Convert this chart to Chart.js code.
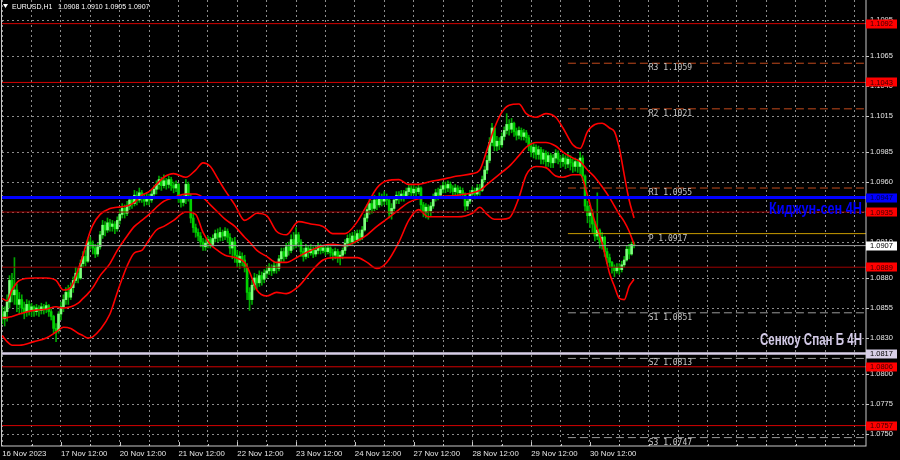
<!DOCTYPE html>
<html>
<head>
<meta charset="utf-8">
<title>EURUSD H1</title>
<script src="https://cdn.jsdelivr.net/npm/chart.js@4.4.1/dist/chart.umd.min.js"></script>
<style>
    html, body { margin: 0; padding: 0; background: #000; }
    #eurusdChart { display: block; }
</style>
</head>
<body>
<canvas id="eurusdChart" width="900" height="460"></canvas>
<script>
// bar 0 = 16 Nov 12:00, one bar per hour, last bar = 1 Dec 06:00
const tick_bars = [0, 24, 48, 72, 96, 120, 144, 168, 192, 216, 240];
const tick_labels = ["16 Nov 2023", "17 Nov 12:00", "20 Nov 12:00", "21 Nov 12:00", "22 Nov 12:00",
    "23 Nov 12:00", "24 Nov 12:00", "27 Nov 12:00", "28 Nov 12:00", "29 Nov 12:00", "30 Nov 12:00"];
const price_ticks = [1.0750, 1.0775, 1.0800, 1.0830, 1.0855, 1.0880, 1.0910, 1.0935,
    1.0960, 1.0985, 1.1015, 1.1040, 1.1065, 1.1095];

const opens = [
    1.0850, 1.0846, 1.0852, 1.0860, 1.0878, 1.0866, 1.0870, 1.0858, 1.0862, 1.0855, 1.0852, 1.0858,
    1.0853, 1.0856, 1.0852, 1.0855, 1.0853, 1.0856, 1.0854, 1.0857, 1.0852, 1.0848, 1.0838, 1.0836,
    1.0850, 1.0856, 1.0862, 1.0868, 1.0864, 1.0872, 1.0878, 1.0884, 1.0880, 1.0892, 1.0898, 1.0894,
    1.0910, 1.0908, 1.0905, 1.0900, 1.0906, 1.0916, 1.0924, 1.0920, 1.0926, 1.0923, 1.0925, 1.0921,
    1.0928, 1.0933, 1.0938, 1.0934, 1.0940, 1.0945, 1.0942, 1.0949, 1.0945, 1.0951, 1.0947, 1.0944,
    1.0948, 1.0945, 1.0950, 1.0954, 1.0958, 1.0962, 1.0957, 1.0961, 1.0958, 1.0962, 1.0957, 1.0955,
    1.0958, 1.0946, 1.0943, 1.0946, 1.0958, 1.0948, 1.0930, 1.0922, 1.0918, 1.0915, 1.0910, 1.0906,
    1.0909, 1.0912, 1.0908, 1.0913, 1.0917, 1.0914, 1.0918, 1.0915, 1.0919, 1.0914, 1.0905, 1.0910,
    1.0899, 1.0893, 1.0898, 1.0895, 1.0889, 1.0868, 1.0862, 1.0874, 1.0880, 1.0876, 1.0882, 1.0879,
    1.0884, 1.0886, 1.0889, 1.0886, 1.0890, 1.0888, 1.0896, 1.0902, 1.0898, 1.0906, 1.0903, 1.0912,
    1.0908, 1.0916, 1.0910, 1.0902, 1.0898, 1.0905, 1.0901, 1.0904, 1.0900, 1.0903, 1.0906, 1.0903,
    1.0905, 1.0902, 1.0905, 1.0901, 1.0899, 1.0902, 1.0897, 1.0899, 1.0903, 1.0909, 1.0913, 1.0910,
    1.0915, 1.0912, 1.0917, 1.0914, 1.0920, 1.0930, 1.0937, 1.0942, 1.0938, 1.0945, 1.0941, 1.0947,
    1.0944, 1.0948, 1.0945, 1.0934, 1.0938, 1.0945, 1.0949, 1.0946, 1.0950, 1.0948, 1.0952, 1.0955,
    1.0951, 1.0954, 1.0952, 1.0955, 1.0941, 1.0935, 1.0939, 1.0936, 1.0940, 1.0947, 1.0951, 1.0949,
    1.0954, 1.0957, 1.0955, 1.0958, 1.0955, 1.0952, 1.0955, 1.0951, 1.0953, 1.0950, 1.0940, 1.0944,
    1.0950, 1.0953, 1.0950, 1.0955, 1.0953, 1.0962, 1.0970, 1.0978, 1.0993, 1.1005, 1.0990, 1.0994,
    1.0991, 1.0998, 1.1003, 1.1008, 1.1004, 1.1009, 1.1002, 1.0999, 1.1003, 1.0998, 1.1001, 1.0997,
    1.0990, 1.0985, 1.0989, 1.0983, 1.0987, 1.0979, 1.0984, 1.0977, 1.0982, 1.0976, 1.0980, 1.0984,
    1.0979, 1.0977, 1.0980, 1.0975, 1.0979, 1.0976, 1.0973, 1.0977, 1.0973, 1.0980, 1.0965, 1.0940,
    1.0932, 1.0935, 1.0925, 1.0915, 1.0920, 1.0910, 1.0914, 1.0902, 1.0897, 1.0893, 1.0889, 1.0886,
    1.0889, 1.0887, 1.0891, 1.0895, 1.0904, 1.0900, 1.0908
];
const highs = [
    1.0856, 1.0856, 1.0866, 1.0882, 1.0884, 1.0897, 1.0875, 1.0868, 1.0866, 1.0860, 1.0862, 1.0861,
    1.0859, 1.0857, 1.0858, 1.0857, 1.0859, 1.0858, 1.0860, 1.0858, 1.0854, 1.0849, 1.0842, 1.0852,
    1.0860, 1.0866, 1.0872, 1.0874, 1.0876, 1.0881, 1.0889, 1.0888, 1.0895, 1.0902, 1.0903, 1.0912,
    1.0914, 1.0911, 1.0908, 1.0909, 1.0919, 1.0928, 1.0927, 1.0930, 1.0929, 1.0928, 1.0927, 1.0931,
    1.0937, 1.0942, 1.0941, 1.0944, 1.0948, 1.0948, 1.0953, 1.0952, 1.0955, 1.0953, 1.0950, 1.0951,
    1.0950, 1.0953, 1.0957, 1.0961, 1.0965, 1.0964, 1.0966, 1.0963, 1.0965, 1.0964, 1.0960, 1.0961,
    1.0959, 1.0949, 1.0949, 1.0962, 1.0960, 1.0950, 1.0933, 1.0925, 1.0921, 1.0918, 1.0913, 1.0912,
    1.0915, 1.0914, 1.0916, 1.0920, 1.0921, 1.0922, 1.0920, 1.0922, 1.0921, 1.0917, 1.0913, 1.0914,
    1.0903, 1.0902, 1.0901, 1.0899, 1.0892, 1.0872, 1.0878, 1.0884, 1.0883, 1.0886, 1.0885, 1.0887,
    1.0890, 1.0892, 1.0891, 1.0893, 1.0892, 1.0899, 1.0905, 1.0905, 1.0909, 1.0910, 1.0916, 1.0918,
    1.0922, 1.0918, 1.0912, 1.0905, 1.0908, 1.0907, 1.0908, 1.0906, 1.0907, 1.0909, 1.0908, 1.0907,
    1.0906, 1.0907, 1.0906, 1.0904, 1.0905, 1.0904, 1.0902, 1.0905, 1.0912, 1.0916, 1.0917, 1.0918,
    1.0919, 1.0920, 1.0920, 1.0923, 1.0933, 1.0941, 1.0946, 1.0945, 1.0949, 1.0948, 1.0951, 1.0950,
    1.0952, 1.0950, 1.0947, 1.0942, 1.0948, 1.0952, 1.0952, 1.0953, 1.0953, 1.0955, 1.0958, 1.0957,
    1.0958, 1.0956, 1.0958, 1.0956, 1.0943, 1.0942, 1.0941, 1.0943, 1.0950, 1.0954, 1.0955, 1.0957,
    1.0960, 1.0960, 1.0961, 1.0960, 1.0957, 1.0958, 1.0957, 1.0956, 1.0955, 1.0951, 1.0947, 1.0953,
    1.0956, 1.0955, 1.0958, 1.0958, 1.0965, 1.0973, 1.0982, 1.0997, 1.1009, 1.1006, 1.0998, 1.0997,
    1.1001, 1.1006, 1.1017, 1.1012, 1.1013, 1.1010, 1.1005, 1.1006, 1.1005, 1.1004, 1.1003, 1.0999,
    1.0993, 1.0992, 1.0991, 1.0990, 1.0989, 1.0987, 1.0986, 1.0985, 1.0984, 1.0983, 1.0987, 1.0986,
    1.0982, 1.0983, 1.0982, 1.0984, 1.0982, 1.0979, 1.0980, 1.0979, 1.0985, 1.0982, 1.0966, 1.0944,
    1.0940, 1.0937, 1.0927, 1.0951, 1.0921, 1.0918, 1.0915, 1.0905, 1.0900, 1.0894, 1.0891, 1.0892,
    1.0892, 1.0894, 1.0898, 1.0907, 1.0908, 1.0910, 1.0910
];
const lows = [
    1.0842, 1.0840, 1.0844, 1.0855, 1.0860, 1.0858, 1.0852, 1.0850, 1.0850, 1.0846, 1.0848, 1.0849,
    1.0848, 1.0848, 1.0849, 1.0848, 1.0850, 1.0850, 1.0851, 1.0848, 1.0845, 1.0834, 1.0827, 1.0834,
    1.0845, 1.0852, 1.0858, 1.0858, 1.0862, 1.0868, 1.0876, 1.0876, 1.0879, 1.0889, 1.0890, 1.0893,
    1.0904, 1.0900, 1.0897, 1.0898, 1.0904, 1.0913, 1.0915, 1.0918, 1.0919, 1.0919, 1.0917, 1.0919,
    1.0925, 1.0930, 1.0930, 1.0932, 1.0937, 1.0938, 1.0940, 1.0941, 1.0943, 1.0943, 1.0940, 1.0941,
    1.0941, 1.0943, 1.0946, 1.0950, 1.0954, 1.0953, 1.0955, 1.0954, 1.0955, 1.0953, 1.0951, 1.0952,
    1.0943, 1.0939, 1.0940, 1.0942, 1.0944, 1.0926, 1.0918, 1.0914, 1.0911, 1.0906, 1.0903, 1.0903,
    1.0905, 1.0905, 1.0906, 1.0910, 1.0910, 1.0911, 1.0911, 1.0912, 1.0910, 1.0900, 1.0896, 1.0893,
    1.0889, 1.0888, 1.0890, 1.0885, 1.0862, 1.0853, 1.0858, 1.0870, 1.0871, 1.0873, 1.0874, 1.0876,
    1.0880, 1.0883, 1.0882, 1.0884, 1.0884, 1.0886, 1.0893, 1.0894, 1.0896, 1.0899, 1.0901, 1.0904,
    1.0905, 1.0906, 1.0898, 1.0894, 1.0896, 1.0897, 1.0899, 1.0897, 1.0898, 1.0900, 1.0900, 1.0901,
    1.0899, 1.0900, 1.0898, 1.0895, 1.0896, 1.0893, 1.0891, 1.0896, 1.0900, 1.0906, 1.0907, 1.0908,
    1.0909, 1.0910, 1.0911, 1.0912, 1.0919, 1.0927, 1.0933, 1.0934, 1.0936, 1.0937, 1.0939, 1.0940,
    1.0941, 1.0941, 1.0930, 1.0929, 1.0936, 1.0942, 1.0942, 1.0944, 1.0944, 1.0946, 1.0949, 1.0948,
    1.0949, 1.0948, 1.0950, 1.0937, 1.0931, 1.0930, 1.0929, 1.0932, 1.0938, 1.0944, 1.0945, 1.0947,
    1.0951, 1.0951, 1.0952, 1.0951, 1.0948, 1.0949, 1.0948, 1.0948, 1.0946, 1.0936, 1.0937, 1.0942,
    1.0947, 1.0946, 1.0948, 1.0949, 1.0952, 1.0960, 1.0967, 1.0976, 1.0990, 1.0986, 1.0986, 1.0987,
    1.0989, 1.0995, 1.1000, 1.0999, 1.1001, 1.0998, 1.0995, 1.0996, 1.0995, 1.0995, 1.0993, 1.0986,
    1.0981, 1.0980, 1.0979, 1.0979, 1.0975, 1.0975, 1.0973, 1.0973, 1.0972, 1.0972, 1.0976, 1.0975,
    1.0972, 1.0973, 1.0971, 1.0972, 1.0970, 1.0968, 1.0969, 1.0968, 1.0966, 1.0961, 1.0936, 1.0926,
    1.0922, 1.0918, 1.0911, 1.0912, 1.0905, 1.0904, 1.0898, 1.0892, 1.0889, 1.0884, 1.0881, 1.0884,
    1.0883, 1.0885, 1.0889, 1.0894, 1.0896, 1.0899, 1.0905
];
const closes = [
    1.0846, 1.0852, 1.0860, 1.0878, 1.0866, 1.0870, 1.0858, 1.0862, 1.0855, 1.0852, 1.0858, 1.0853,
    1.0856, 1.0852, 1.0855, 1.0853, 1.0856, 1.0854, 1.0857, 1.0852, 1.0848, 1.0838, 1.0836, 1.0850,
    1.0856, 1.0862, 1.0868, 1.0864, 1.0872, 1.0878, 1.0884, 1.0880, 1.0892, 1.0898, 1.0894, 1.0910,
    1.0908, 1.0905, 1.0900, 1.0906, 1.0916, 1.0924, 1.0920, 1.0926, 1.0923, 1.0925, 1.0921, 1.0928,
    1.0933, 1.0938, 1.0934, 1.0940, 1.0945, 1.0942, 1.0949, 1.0945, 1.0951, 1.0947, 1.0944, 1.0948,
    1.0945, 1.0950, 1.0954, 1.0958, 1.0962, 1.0957, 1.0961, 1.0958, 1.0962, 1.0957, 1.0955, 1.0958,
    1.0946, 1.0943, 1.0946, 1.0958, 1.0948, 1.0930, 1.0922, 1.0918, 1.0915, 1.0910, 1.0906, 1.0909,
    1.0912, 1.0908, 1.0913, 1.0917, 1.0914, 1.0918, 1.0915, 1.0919, 1.0914, 1.0905, 1.0910, 1.0899,
    1.0893, 1.0898, 1.0895, 1.0889, 1.0868, 1.0862, 1.0874, 1.0880, 1.0876, 1.0882, 1.0879, 1.0884,
    1.0886, 1.0889, 1.0886, 1.0890, 1.0888, 1.0896, 1.0902, 1.0898, 1.0906, 1.0903, 1.0912, 1.0908,
    1.0916, 1.0910, 1.0902, 1.0898, 1.0905, 1.0901, 1.0904, 1.0900, 1.0903, 1.0906, 1.0903, 1.0905,
    1.0902, 1.0905, 1.0901, 1.0899, 1.0902, 1.0897, 1.0899, 1.0903, 1.0909, 1.0913, 1.0910, 1.0915,
    1.0912, 1.0917, 1.0914, 1.0920, 1.0930, 1.0937, 1.0942, 1.0938, 1.0945, 1.0941, 1.0947, 1.0944,
    1.0948, 1.0945, 1.0934, 1.0938, 1.0945, 1.0949, 1.0946, 1.0950, 1.0948, 1.0952, 1.0955, 1.0951,
    1.0954, 1.0952, 1.0955, 1.0941, 1.0935, 1.0939, 1.0936, 1.0940, 1.0947, 1.0951, 1.0949, 1.0954,
    1.0957, 1.0955, 1.0958, 1.0955, 1.0952, 1.0955, 1.0951, 1.0953, 1.0950, 1.0940, 1.0944, 1.0950,
    1.0953, 1.0950, 1.0955, 1.0953, 1.0962, 1.0970, 1.0978, 1.0993, 1.1005, 1.0990, 1.0994, 1.0991,
    1.0998, 1.1003, 1.1008, 1.1004, 1.1009, 1.1002, 1.0999, 1.1003, 1.0998, 1.1001, 1.0997, 1.0990,
    1.0985, 1.0989, 1.0983, 1.0987, 1.0979, 1.0984, 1.0977, 1.0982, 1.0976, 1.0980, 1.0984, 1.0979,
    1.0977, 1.0980, 1.0975, 1.0979, 1.0976, 1.0973, 1.0977, 1.0973, 1.0980, 1.0965, 1.0940, 1.0932,
    1.0935, 1.0925, 1.0915, 1.0920, 1.0910, 1.0914, 1.0902, 1.0897, 1.0893, 1.0889, 1.0886, 1.0889,
    1.0887, 1.0891, 1.0895, 1.0904, 1.0900, 1.0908, 1.0907
];

// Bollinger bands, sampled at these bar numbers
const bb_index = [0, 2, 4, 7, 13, 18, 22, 25, 28, 31, 33, 35, 37, 40, 44, 47, 51, 54, 57, 60,
    63, 66, 70, 75, 79, 82, 85, 88, 91, 95, 99, 101, 104, 108, 112, 116, 121, 126, 131, 135,
    140, 145, 149, 153, 157, 162, 166, 170, 174, 179, 186, 192, 195, 198, 201, 204, 207, 211, 214, 218,
    222, 226, 229, 233, 236, 239, 242, 245, 248, 250, 252, 254, 256, 258];
const bb_upper = [1.0863, 1.0861, 1.0870, 1.0878, 1.0880, 1.0880, 1.0878, 1.0870, 1.0872, 1.0887,
    1.0899, 1.0913, 1.0924, 1.0933, 1.0938, 1.0939, 1.0940, 1.0943, 1.0949, 1.0952,
    1.0958, 1.0964, 1.0967, 1.0964, 1.0970, 1.0976, 1.0973, 1.0963, 1.0953, 1.0941,
    1.0928, 1.0930, 1.0934, 1.0932, 1.0919, 1.0916, 1.0927, 1.0925, 1.0923, 1.0917,
    1.0917, 1.0927, 1.0941, 1.0955, 1.0961, 1.0962, 1.0958, 1.0958, 1.0960, 1.0962,
    1.0965, 1.0967, 1.0970, 1.0987, 1.1005, 1.1018, 1.1024, 1.1025, 1.1017, 1.1014,
    1.1017, 1.1014, 1.1005, 1.0991, 1.0988, 1.1002, 1.1008, 1.1009, 1.1005, 1.1002,
    1.0988, 1.0966, 1.0945, 1.0930];
const bb_middle = [1.0847, 1.0847, 1.0848, 1.0850, 1.0853, 1.0854, 1.0856, 1.0855, 1.0856, 1.0859,
    1.0863, 1.0867, 1.0872, 1.0882, 1.0892, 1.0903, 1.0915, 1.0923, 1.0928, 1.0933,
    1.0939, 1.0944, 1.0947, 1.0950, 1.0950, 1.0947, 1.0941, 1.0935, 1.0929, 1.0923,
    1.0914, 1.0910, 1.0903, 1.0898, 1.0893, 1.0893, 1.0898, 1.0903, 1.0907, 1.0908,
    1.0907, 1.0911, 1.0916, 1.0923, 1.0929, 1.0937, 1.0943, 1.0946, 1.0947, 1.0948,
    1.0949, 1.0951, 1.0953, 1.0958, 1.0963, 1.0968, 1.0973, 1.0982, 1.0989, 1.0993,
    1.0993, 1.0990, 1.0985, 1.0980, 1.0977, 1.0970, 1.0964, 1.0956, 1.0947, 1.0940,
    1.0933, 1.0927, 1.0919, 1.0908];
const bb_lower = [1.0832, 1.0827, 1.0824, 1.0824, 1.0827, 1.0830, 1.0835, 1.0839, 1.0838, 1.0834,
    1.0832, 1.0830, 1.0831, 1.0837, 1.0850, 1.0868, 1.0890, 1.0901, 1.0903, 1.0912,
    1.0920, 1.0923, 1.0928, 1.0935, 1.0933, 1.0918, 1.0908, 1.0903, 1.0899, 1.0897,
    1.0893, 1.0885, 1.0870, 1.0865, 1.0868, 1.0867, 1.0873, 1.0885, 1.0895, 1.0897,
    1.0897, 1.0897, 1.0893, 1.0888, 1.0893, 1.0910, 1.0928, 1.0937, 1.0931, 1.0931,
    1.0931, 1.0934, 1.0939, 1.0933, 1.0929, 1.0929, 1.0930, 1.0947, 1.0966, 1.0973,
    1.0972, 1.0965, 1.0964, 1.0966, 1.0966, 1.0949, 1.0927, 1.0909, 1.0884, 1.0873,
    1.0863, 1.0862, 1.0873, 1.0879];

// horizontal levels
const red_levels = [1.1092, 1.1043, 1.0806, 1.0757];
const dark_red_levels = [1.0935, 1.0889];
const pivot_names = ["R3", "R2", "R1", "P", "S1", "S2", "S3"];
const pivot_values = [1.1059, 1.1021, 1.0955, 1.0917, 1.0851, 1.0813, 1.0747];
const kijun_value = 1.0947;
const senkou_b_value = 1.0817;
const last_price = 1.0907;
const header_values = ["1.0908", "1.0910", "1.0905", "1.0907"];

(function () {
    "use strict";
    const x_min = -0.08;
    const x_max = 352.72;
    const pivot_start = 231;
    const pivot_text_bar = 264;
    const y_min = 1.0740;
    const y_max = 1.11117;
    const wick_color = "#00a800";
    const bull_color = "#7dff7d";
    const bear_color = "#00d200";
    const axis_font = { family: "'Liberation Sans', Arial, sans-serif", size: 7.5 };

    let wick_data = [];
    let body_data = [];
    let body_colors = [];
    for (let i = 0; i < closes.length; i++) {
        wick_data.push({ x: i, y: [lows[i], highs[i]] });
        body_data.push({ x: i, y: [opens[i], closes[i]] });
        body_colors.push(closes[i] >= opens[i] ? bull_color : bear_color);
    }

    /**
     * @description flat line across the whole chart, or from a bar to the right edge
     */
    function levelLine(value, color, width, dash, from) {
        return {
            type: "line",
            data: [{ x: from === undefined ? x_min : from, y: value }, { x: x_max, y: value }],
            borderColor: color,
            borderWidth: width,
            borderDash: dash || [],
            pointRadius: 0,
            order: 2,
        };
    }

    function bandLine(values) {
        return {
            type: "line",
            data: bb_index.map((b, k) => ({ x: b, y: values[k] })),
            borderColor: "#ff0000",
            borderWidth: 1.6,
            pointRadius: 0,
            cubicInterpolationMode: "monotone",
            order: 5,
        };
    }

    // chart.js keeps half a label of room at the ends of each axis, MT4 does not
    function noEndPadding(axis) {
        axis.paddingTop = 0;
        axis.paddingBottom = 0;
        axis.paddingLeft = 0;
        axis.paddingRight = 0;
    }

    let datasets = [
        {
            data: wick_data,
            backgroundColor: wick_color,
            barThickness: 1,
            grouped: false,
            order: 20,
        },
        {
            data: body_data,
            backgroundColor: body_colors,
            barThickness: 2,
            minBarLength: 1,
            grouped: false,
            order: 19,
        },
        bandLine(bb_upper),
        bandLine(bb_middle),
        bandLine(bb_lower),
    ];
    red_levels.forEach((v) => datasets.push(levelLine(v, "#d40000", 1)));
    dark_red_levels.forEach((v) => datasets.push(levelLine(v, "#a00000", 1)));
    pivot_values.forEach((v, k) => {
        let name = pivot_names[k];
        if (name === "P") {
            datasets.push(levelLine(v, "#c89b00", 1, [], pivot_start));
        } else if (name[0] === "R") {
            datasets.push(levelLine(v, "#c24a1c", 1, [8, 4], pivot_start));
        } else {
            datasets.push(levelLine(v, "#9a9a9a", 1, [8, 4], pivot_start));
        }
    });
    datasets.push(levelLine(last_price, "#a0a0a0", 1));
    datasets.push(levelLine(kijun_value, "#0000ff", 3));
    datasets.push(levelLine(senkou_b_value, "#d8cfe8", 2.5));

    // black background, frame, header, price boxes and texts
    const mt4Decor = {
        id: "mt4Decor",
        beforeDraw(chart) {
            let ctx = chart.ctx;
            ctx.save();
            ctx.fillStyle = "#000";
            ctx.fillRect(0, 0, chart.width, chart.height);
            ctx.restore();
        },
        afterDatasetsDraw(chart) {
            let ctx = chart.ctx;
            let xs = chart.scales.x;
            let ys = chart.scales.y;
            let area = chart.chartArea;
            ctx.save();
            // pivot captions
            ctx.font = "8px 'DejaVu Sans Mono', monospace";
            ctx.fillStyle = "#c8c8c8";
            ctx.textBaseline = "top";
            ctx.textAlign = "left";
            pivot_values.forEach((v, k) => {
                ctx.fillText(pivot_names[k] + " " + v.toFixed(4), xs.getPixelForValue(pivot_text_bar), ys.getPixelForValue(v) + 1);
            });
            // indicator captions, squeezed like a narrow bold font
            drawNarrow(ctx, "Киджун-сен 4H", "#0000ff", area.right - 4, ys.getPixelForValue(kijun_value) + 12, 93);
            drawNarrow(ctx, "Сенкоу Спан Б 4H", "#d2c9e6", area.right - 4, ys.getPixelForValue(senkou_b_value) - 13, 102);
            // header
            ctx.fillStyle = "#ffffff";
            ctx.beginPath();
            ctx.moveTo(3, 4);
            ctx.lineTo(8, 4);
            ctx.lineTo(5.5, 8);
            ctx.closePath();
            ctx.fill();
            ctx.font = "7px 'Liberation Sans', Arial, sans-serif";
            ctx.textBaseline = "middle";
            ctx.fillText("EURUSD,H1", 12, 7);
            ctx.fillText(header_values.join(" "), 58, 7);
            ctx.restore();
        },
        afterDraw(chart) {
            let ctx = chart.ctx;
            let xs = chart.scales.x;
            let ys = chart.scales.y;
            let area = chart.chartArea;
            ctx.save();
            ctx.strokeStyle = "#c8c8c8";
            ctx.lineWidth = 1;
            ctx.strokeRect(area.left - 0.5, area.top - 0.5, area.right - area.left + 0.5, area.bottom - area.top + 0.5);
            // small inward ticks on the time axis
            ctx.beginPath();
            for (let b = 12; b < x_max; b += 12) {
                let px = Math.round(xs.getPixelForValue(b)) + 0.5;
                let len = tick_bars.includes(b) ? 4 : 2;
                ctx.moveTo(px, area.bottom);
                ctx.lineTo(px, area.bottom - len);
            }
            ctx.stroke();
            // price boxes on the right scale
            let boxes = [];
            red_levels.concat(dark_red_levels).forEach((v) => boxes.push([v, "#ff0000", "#3a0000"]));
            boxes.push([kijun_value, "#0000ff", "#00003a"]);
            boxes.push([senkou_b_value, "#d8cfe8", "#000000"]);
            boxes.push([last_price, "#ffffff", "#000000"]);
            ctx.font = "7.5px 'Liberation Sans', Arial, sans-serif";
            ctx.textBaseline = "middle";
            ctx.textAlign = "left";
            boxes.forEach((b) => {
                let py = ys.getPixelForValue(b[0]);
                ctx.fillStyle = b[1];
                ctx.fillRect(area.right, Math.round(py) - 4.5, 31, 9);
                ctx.fillStyle = b[2];
                ctx.fillText(b[0].toFixed(4), area.right + 4, py + 0.5);
            });
            ctx.restore();
        },
    };

    function drawNarrow(ctx, text, color, right, mid, width) {
        ctx.save();
        ctx.font = "bold 16px 'Liberation Sans', Arial, sans-serif";
        let w = ctx.measureText(text).width;
        ctx.translate(right, mid);
        ctx.scale(width / w, 1);
        ctx.fillStyle = color;
        ctx.textAlign = "right";
        ctx.textBaseline = "middle";
        ctx.fillText(text, 0, 0);
        ctx.restore();
    }

    new Chart(document.getElementById("eurusdChart"), {
        type: "bar",
        data: { datasets: datasets },
        options: {
            responsive: false,
            animation: false,
            events: [],
            layout: { padding: { left: 2, top: 0, right: 0, bottom: 0 } },
            plugins: {
                legend: { display: false },
                tooltip: { enabled: false },
            },
            scales: {
                x: {
                    type: "linear",
                    min: x_min,
                    max: x_max,
                    offset: false,
                    afterBuildTicks: (axis) => {
                        let t = [];
                        for (let b = 0; b < x_max; b += 12) t.push({ value: b });
                        axis.ticks = t;
                    },
                    afterFit: (axis) => {
                        axis.height = 14;
                        noEndPadding(axis);
                    },
                    ticks: {
                        autoSkip: false,
                        maxRotation: 0,
                        minRotation: 0,
                        align: "start",
                        padding: 3,
                        color: "#e6e6e6",
                        font: { family: axis_font.family, size: 7.8 },
                        callback: (v) => {
                            let k = tick_bars.indexOf(v);
                            return k >= 0 ? tick_labels[k] : "";
                        },
                    },
                    grid: { color: "rgba(175,175,175,0.8)", drawTicks: false, offset: false },
                    border: { display: false, dash: [2, 3] },
                },
                y: {
                    position: "right",
                    min: y_min,
                    max: y_max,
                    afterBuildTicks: (axis) => {
                        axis.ticks = price_ticks.map((v) => ({ value: v }));
                    },
                    afterFit: (axis) => {
                        axis.width = 34;
                        noEndPadding(axis);
                    },
                    ticks: {
                        autoSkip: false,
                        padding: 1,
                        color: "#e6e6e6",
                        font: axis_font,
                        callback: (v) => v.toFixed(4),
                    },
                    grid: { color: "rgba(175,175,175,0.8)", tickLength: 3, tickColor: "#c8c8c8" },
                    border: { display: false, dash: [2, 3] },
                },
            },
        },
        plugins: [mt4Decor],
    });
})();
</script>
</body>
</html>
